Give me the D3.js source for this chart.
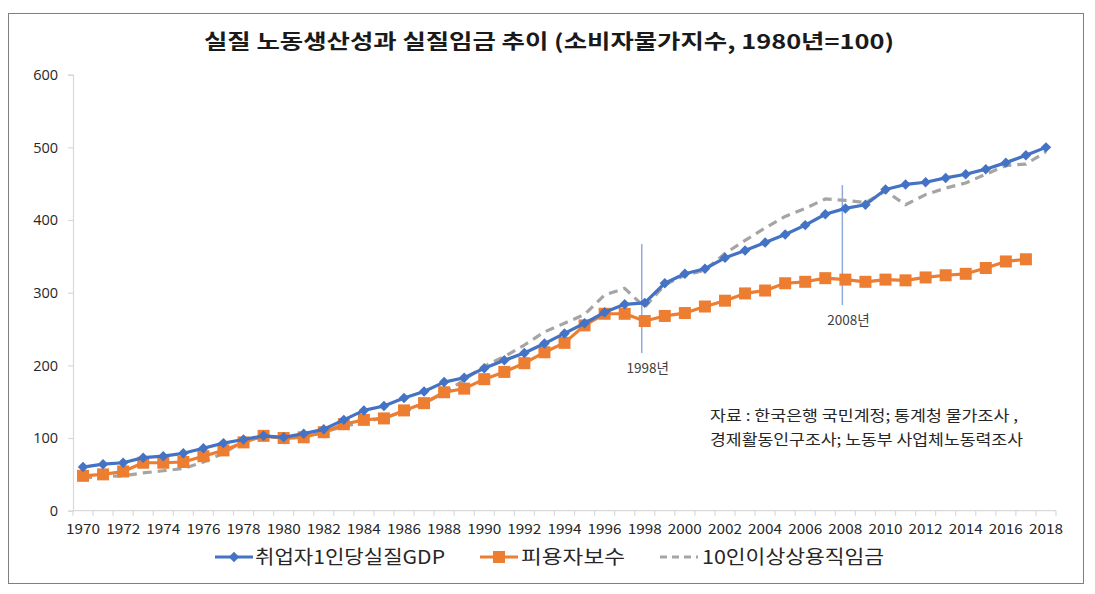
<!DOCTYPE html>
<html>
<head>
<meta charset="utf-8">
<script src="https://cdn.jsdelivr.net/npm/d3@7"></script>
<style>
  body { margin: 0; background: #fff; }
  svg text { font-family: "Noto Sans CJK KR", "Noto Sans", sans-serif; }
</style>
</head>
<body>
<div class="container"></div>
<script>
// chart values
const years = [
    1970, 1971, 1972, 1973, 1974, 1975, 1976, 1977, 1978, 1979,
    1980, 1981, 1982, 1983, 1984, 1985, 1986, 1987, 1988, 1989,
    1990, 1991, 1992, 1993, 1994, 1995, 1996, 1997, 1998, 1999,
    2000, 2001, 2002, 2003, 2004, 2005, 2006, 2007, 2008, 2009,
    2010, 2011, 2012, 2013, 2014, 2015, 2016, 2017, 2018,
];

// 취업자1인당실질GDP (1970-2018)
const gdpPerWorker = [
    60, 64, 66, 73, 75, 79, 86, 93, 98, 103,
    101, 106, 112, 125, 138, 144, 155, 164, 177, 183,
    196, 207, 217, 230, 244, 258, 273, 284, 286, 313,
    326, 333, 348, 358, 369, 380, 393, 408, 416, 421,
    442, 449, 452, 458, 463, 470, 479, 489, 500,
];

// 피용자보수 (1970-2017)
const compensation = [
    48, 50, 54, 66, 66, 67, 75, 83, 94, 103,
    100, 101, 108, 119, 125, 127, 138, 148, 163, 168,
    181, 191, 203, 218, 231, 255, 271, 271, 261, 268,
    272, 281, 289, 299, 303, 313, 315, 320, 318, 315,
    318, 317, 321, 324, 326, 334, 343, 346,
];

// 10인이상상용직임금 (1970-2018)
const regularWage = [
    45, 47, 48, 52, 55, 58, 67, 79, 96, 102,
    100, 101, 108, 116, 122, 128, 136, 148, 162, 180,
    199, 212, 228, 246, 258, 270, 297, 306, 280, 311,
    324, 331, 354, 372, 389, 405, 416, 429, 427, 424,
    440, 421, 435, 444, 451, 463, 475, 477, 494,
];

const yTicks = [0, 100, 200, 300, 400, 500, 600];

const annotations = [
    { year: 1998, top: 367, bottom: 217, label: "1998년", labelValue: 190 },
    { year: 2008, top: 448, bottom: 283, label: "2008년", labelValue: 256 },
];

const titleText = "실질 노동생산성과 실질임금 추이 (소비자물가지수, 1980년=100)";
const sourceLines = ["자료 : 한국은행 국민계정;  통계청 물가조사 ,", "경제활동인구조사; 노동부 사업체노동력조사"];

const seriesList = [
    { name: "취업자1인당실질GDP", values: gdpPerWorker, color: "#4472C4", marker: "diamond" },
    { name: "피용자보수", values: compensation, color: "#ED7D31", marker: "square" },
    { name: "10인이상상용직임금", values: regularWage, color: "#A5A5A5", marker: "none", dashed: true },
];

const width = 1095;
const height = 594;
const plot = { left: 73, right: 1056, top: 74.7, bottom: 510.7 };

const svg = d3.select(".container")
    .append("svg")
    .attr("width", width)
    .attr("height", height);

// outer frame
svg.append("rect")
    .attr("x", 8.5)
    .attr("y", 13.5)
    .attr("width", 1075)
    .attr("height", 570)
    .attr("fill", "#fff")
    .attr("stroke", "#7f7f7f")
    .attr("stroke-width", 1);

const x = d3.scaleBand()
    .domain(years)
    .range([plot.left, plot.right]);

const cx = (year) => x(year) + x.bandwidth() / 2;

const y = d3.scaleLinear()
    .domain([0, 600])
    .range([plot.bottom, plot.top]);

// title
svg.append("text")
    .attr("x", 549)
    .attr("y", 49)
    .attr("text-anchor", "middle")
    .attr("font-size", "20px")
    .attr("font-weight", "bold")
    .attr("fill", "#1a1a1a")
    .attr("textLength", 690)
    .attr("lengthAdjust", "spacingAndGlyphs")
    .text(titleText);

// y axis
const yAxis = svg.append("g")
    .attr("transform", `translate(${plot.left},0)`)
    .call(d3.axisLeft(y).tickValues(yTicks).tickSize(5).tickPadding(10));
yAxis.select(".domain").attr("stroke", "#d9d9d9").attr("stroke-width", 1.2);
yAxis.selectAll(".tick line").attr("stroke", "#d9d9d9").attr("stroke-width", 1.2);
yAxis.selectAll(".tick text")
    .attr("fill", "#262626")
    .style("font-family", "'Open Sans', sans-serif")
    .attr("font-size", "14.5px");

// x axis: ticks between categories, labels every other year
const xAxis = svg.append("g").attr("transform", `translate(0,${plot.bottom})`);
xAxis.append("line")
    .attr("x1", plot.left)
    .attr("x2", plot.right)
    .attr("stroke", "#d9d9d9")
    .attr("stroke-width", 1.2);
xAxis.selectAll("line.tick")
    .data(years.concat([null]))
    .enter()
    .append("line")
    .attr("class", "tick")
    .attr("x1", (d, i) => plot.left + i * x.step())
    .attr("x2", (d, i) => plot.left + i * x.step())
    .attr("y1", 0)
    .attr("y2", 5)
    .attr("stroke", "#d9d9d9")
    .attr("stroke-width", 1.2);
xAxis.selectAll("text")
    .data(years.filter((d) => d % 2 === 0))
    .enter()
    .append("text")
    .attr("x", (d) => cx(d))
    .attr("y", 23)
    .attr("text-anchor", "middle")
    .attr("font-size", "14px")
    .attr("fill", "#262626")
    .attr("textLength", 34)
    .attr("lengthAdjust", "spacingAndGlyphs")
    .text((d) => d);

// annotation lines
svg.selectAll("line.note")
    .data(annotations)
    .enter()
    .append("line")
    .attr("class", "note")
    .attr("x1", (d) => cx(d.year) - 3)
    .attr("x2", (d) => cx(d.year) - 3)
    .attr("y1", (d) => y(d.top))
    .attr("y2", (d) => y(d.bottom))
    .attr("stroke", "#8faadc")
    .attr("stroke-width", 1.5);

svg.selectAll("text.note")
    .data(annotations)
    .enter()
    .append("text")
    .attr("class", "note")
    .attr("x", (d) => cx(d.year) + 3)
    .attr("y", (d) => y(d.labelValue))
    .attr("text-anchor", "middle")
    .attr("font-size", "13.5px")
    .attr("fill", "#404040")
    .text((d) => d.label);

// source note
const sourceWidths = [308, 313];
svg.selectAll("text.source")
    .data(sourceLines)
    .enter()
    .append("text")
    .attr("class", "source")
    .attr("x", 710)
    .attr("y", (d, i) => 421 + i * 24)
    .attr("font-size", "15px")
    .attr("fill", "#262626")
    .attr("textLength", (d, i) => sourceWidths[i])
    .attr("lengthAdjust", "spacingAndGlyphs")
    .text((d) => d);

// series lines
const line = d3.line()
    .x((d) => cx(d.year))
    .y((d) => y(d.value));

const drawMarker = (sel, kind, color) => {
    if (kind === "diamond") {
        sel.append("path")
            .attr("d", d3.symbol().type(d3.symbolDiamond2).size(70))
            .attr("fill", color);
    } else if (kind === "square") {
        sel.append("rect")
            .attr("x", -6)
            .attr("y", -6)
            .attr("width", 12)
            .attr("height", 12)
            .attr("fill", color);
    }
};

// draw in reverse so the blue series sits on top
seriesList.slice().reverse().forEach((s) => {
    const points = s.values.map((v, i) => ({ year: years[i], value: v }));
    svg.append("path")
        .datum(points)
        .attr("fill", "none")
        .attr("stroke", s.color)
        .attr("stroke-width", 3.2)
        .attr("stroke-linejoin", "round")
        .attr("stroke-dasharray", s.dashed ? "9,6" : null)
        .attr("d", line);

    if (s.marker !== "none") {
        svg.selectAll(null)
            .data(points)
            .enter()
            .append("g")
            .attr("transform", (d) => `translate(${cx(d.year)},${y(d.value)})`)
            .each(function () {
                drawMarker(d3.select(this), s.marker, s.color);
            });
    }
});

// legend
const legendItems = [
    { x: 215, textX: 255, textW: 190 },
    { x: 480, textX: 521, textW: 104 },
    { x: 660, textX: 702, textW: 182 },
];
const legend = svg.append("g").attr("transform", "translate(0,557)");
seriesList.forEach((s, i) => {
    const item = legend.append("g").attr("transform", `translate(${legendItems[i].x},0)`);
    item.append("line")
        .attr("x1", 0)
        .attr("x2", 38)
        .attr("stroke", s.color)
        .attr("stroke-width", 3.2)
        .attr("stroke-dasharray", s.dashed ? "7,5" : null);
    const m = item.append("g").attr("transform", "translate(19,0)");
    drawMarker(m, s.marker, s.color);
    legend.append("text")
        .attr("x", legendItems[i].textX)
        .attr("y", 7)
        .attr("font-size", "19px")
        .attr("fill", "#262626")
        .attr("textLength", legendItems[i].textW)
        .attr("lengthAdjust", "spacingAndGlyphs")
        .text(s.name);
});
</script>
</body>
</html>
